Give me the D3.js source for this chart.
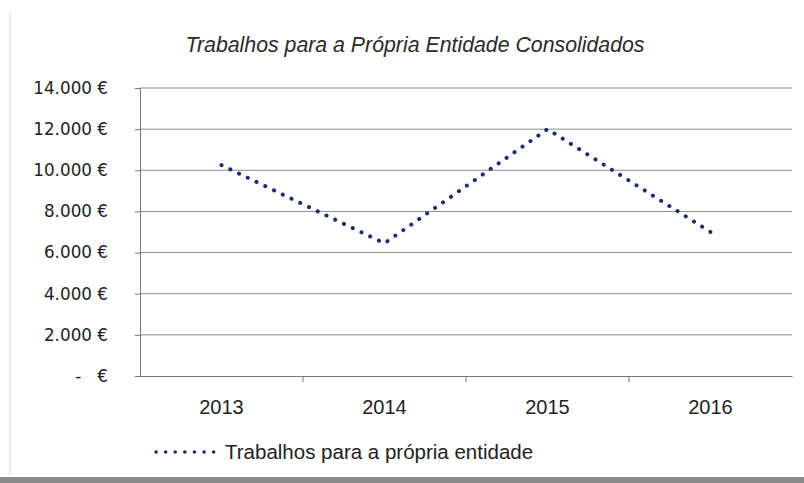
<!DOCTYPE html>
<html><head><meta charset="utf-8">
<script src="https://cdn.jsdelivr.net/npm/d3@7"></script>
<style>body{margin:0;background:#fff}svg{display:block}</style>
</head><body>
<svg id="c" width="804" height="483"></svg>
<script>
const categories = ["2013","2014","2015","2016"];
const values = [10250, 6450, 12000, 7000];
const yTicks = [0,2000,4000,6000,8000,10000,12000,14000];
const seriesName = "Trabalhos para a própria entidade";
const title = "Trabalhos para a Própria  Entidade Consolidados";

const svg = d3.select("#c");
const m = {l:140, r:792, t:88, b:376};
const x = d3.scaleBand().domain(categories).range([m.l, m.r]);
const y = d3.scaleLinear().domain([0,14000]).range([m.b, m.t]);
const sans = "'Liberation Sans', Arial, sans-serif";
const wide = "'DejaVu Sans', Verdana, sans-serif";

// frame
svg.append("rect").attr("width",804).attr("height",483).attr("fill","#fff");
svg.append("line").attr("x1",10).attr("x2",10).attr("y1",12).attr("y2",476).attr("stroke","#d6d6d6");
svg.append("rect").attr("x",0).attr("y",477).attr("width",804).attr("height",6).attr("fill","#8a8a8a");

// title
svg.append("text").attr("x",415).attr("y",52).attr("text-anchor","middle")
  .attr("font-family",sans).attr("font-style","italic").attr("font-size",21.3).attr("fill","#2a2a2a")
  .text(title);

// gridlines
svg.append("g").selectAll("line").data(yTicks.filter(d=>d>0)).join("line")
  .attr("x1",m.l).attr("x2",m.r).attr("y1",d=>y(d)).attr("y2",d=>y(d))
  .attr("stroke","#8c8c8c").attr("stroke-width",1);

// y axis
const fmt = d => d===0 ? "-   €" : d3.format(",")(d).replace(/,/g,".") + " €";
const ya = svg.append("g").attr("transform",`translate(${m.l},0)`)
  .call(d3.axisLeft(y).tickValues(yTicks).tickSize(5).tickPadding(27).tickFormat(fmt));
ya.select(".domain").attr("stroke","#777");
ya.selectAll(".tick line").attr("stroke","#777");
ya.selectAll("text").attr("font-family",wide).attr("font-size",16.8).attr("fill","#222").style("white-space","pre");

// x axis
const xa = svg.append("g").attr("transform",`translate(0,${m.b})`)
  .call(d3.axisBottom(x).tickSize(0).tickPadding(24));
xa.select(".domain").attr("stroke","#777");
xa.selectAll("text").attr("font-family",sans).attr("font-size",20).attr("fill","#222");
svg.append("g").selectAll("line").data(categories.slice(1)).join("line")
  .attr("x1",d=>x(d)).attr("x2",d=>x(d)).attr("y1",m.b).attr("y2",m.b+6)
  .attr("stroke","#777");

// series
const line = d3.line().x((d,i)=>x(categories[i])+x.bandwidth()/2).y(d=>y(d));
svg.append("path").datum(values).attr("d",line).attr("fill","none")
  .attr("stroke","#1b2f6e").attr("stroke-width",4).attr("stroke-linecap","round")
  .attr("stroke-dasharray","0.1 9.6");

// legend
svg.append("line").attr("x1",156).attr("x2",214).attr("y1",452).attr("y2",452)
  .attr("stroke","#1b2f6e").attr("stroke-width",3.5).attr("stroke-linecap","round")
  .attr("stroke-dasharray","0.1 9.5");
svg.append("text").attr("x",225).attr("y",459).attr("font-family",sans).attr("font-size",20.5)
  .attr("fill","#222").text(seriesName);
</script>
</body></html>
